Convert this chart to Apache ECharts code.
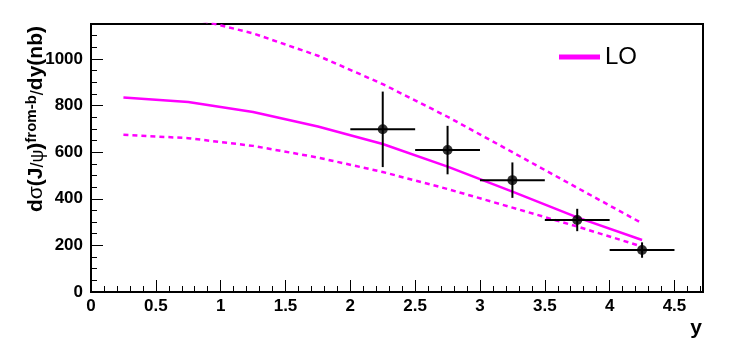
<!DOCTYPE html>
<html>
<head>
<meta charset="utf-8">
<script src="https://cdn.jsdelivr.net/npm/echarts@6/dist/echarts.min.js"></script>
<style>
  html, body { margin: 0; padding: 0; background: #fff; }
  #chart { width: 740px; height: 354px; }
</style>
</head>
<body>
<div id="chart"></div>
<script>
// 理论曲线 (LO) 的 y 点
const theoryX = [0.25, 0.75, 1.25, 1.75, 2.25, 2.75, 3.25, 3.75, 4.25];
const loCentral = [835, 815, 772, 710, 635, 538, 431, 320, 223];
const loUpper = [1230, 1178, 1110, 1014, 892, 752, 600, 447, 295];
const loLower = [675, 660, 627, 577, 515, 442, 362, 281, 195];

// 数据点
const dataX = [2.25, 2.75, 3.25, 3.75, 4.25];
const dataY = [698, 609, 480, 309, 180];
const dataXErr = [0.25, 0.25, 0.25, 0.25, 0.25];
const dataYErr = [162, 104, 76, 48, 33];

const xTicks = [0, 0.5, 1, 1.5, 2, 2.5, 3, 3.5, 4, 4.5];
const yTicks = [0, 200, 400, 600, 800, 1000];

const MAGENTA = '#ff00ff';
const FONT = 'Liberation Sans';

function pairs(xs, ys) {
    return xs.map((x, i) => [x, ys[i]]);
}

const chart = echarts.init(document.getElementById('chart'), null, { renderer: 'canvas' });

const option = {
    animation: false,
    backgroundColor: '#fff',
    grid: {
        left: 91, right: 37, top: 24, bottom: 62,
        show: true, borderColor: '#000', borderWidth: 2
    },
    legend: {
        data: ['LO'],
        left: 559, top: 45,
        padding: 0,
        icon: 'rect',
        itemWidth: 41, itemHeight: 5,
        itemGap: 0,
        textStyle: { fontFamily: FONT, fontSize: 24, color: '#000', padding: [2, 0, 0, 0] }
    },
    xAxis: {
        type: 'value',
        min: 0, max: 4.72, interval: 0.5,
        name: 'y',
        nameLocation: 'end',
        nameGap: -1,
        nameMoveOverlap: false,
        nameTextStyle: {
            fontFamily: FONT, fontWeight: 'bold', fontSize: 21, color: '#000',
            align: 'right', verticalAlign: 'top', padding: [26, 0, 0, 0]
        },
        splitLine: { show: false },
        axisLine: { onZero: false, lineStyle: { color: '#000', width: 2 } },
        axisTick: { inside: true, length: 12, lineStyle: { color: '#000', width: 1 } },
        minorTick: { show: true, splitNumber: 5, length: 6, lineStyle: { color: '#000', width: 1 } },
        axisLabel: {
            fontFamily: FONT, fontWeight: 'bold', fontSize: 17, color: '#000', margin: 6,
            showMaxLabel: false,
            formatter: v => (xTicks.indexOf(v) >= 0 ? String(v) : '')
        }
    },
    yAxis: {
        type: 'value',
        min: 0, max: 1150, interval: 200,
        name: '{m|d}{n|σ}{m|(J}{g|/ψ}{m|)}{s|from-b}{g|/}{m|dy(nb)}',
        nameLocation: 'middle',
        nameRotate: 90,
        nameGap: 44,
        nameMoveOverlap: false,
        nameTextStyle: {
            padding: [0, 0, 0, 78],
            rich: {
                m: { fontFamily: FONT, fontWeight: 'bold', fontSize: 21, color: '#000', lineHeight: 23, verticalAlign: 'bottom' },
                n: { fontFamily: FONT, fontSize: 21, color: '#000', lineHeight: 23, verticalAlign: 'bottom' },
                g: { fontFamily: FONT, fontSize: 18, color: '#000', lineHeight: 23, verticalAlign: 'bottom' },
                s: { fontFamily: FONT, fontWeight: 'bold', fontSize: 15, color: '#000', lineHeight: 15, verticalAlign: 'top', padding: [0, 0, 14, 0] }
            }
        },
        splitLine: { show: false },
        axisLine: { onZero: false, lineStyle: { color: '#000', width: 2 } },
        axisTick: { inside: true, length: 12, lineStyle: { color: '#000', width: 1 } },
        minorTick: { show: true, splitNumber: 4, length: 6, lineStyle: { color: '#000', width: 1 } },
        axisLabel: {
            fontFamily: FONT, fontWeight: 'bold', fontSize: 17, color: '#000', margin: 8,
            showMaxLabel: false,
            formatter: v => (yTicks.indexOf(v) >= 0 ? String(v) : '')
        }
    },
    series: [
        {
            name: 'LO',
            type: 'line',
            data: pairs(theoryX, loCentral),
            showSymbol: false,
            symbol: 'none',
            color: MAGENTA,
            lineStyle: { color: MAGENTA, width: 2.5 },
            clip: true,
            z: 3
        },
        {
            name: 'LO up',
            type: 'line',
            data: pairs(theoryX, loUpper),
            symbol: 'none',
            lineStyle: { color: MAGENTA, width: 2.5, type: [5, 4] },
            clip: true,
            z: 3
        },
        {
            name: 'LO down',
            type: 'line',
            data: pairs(theoryX, loLower),
            symbol: 'none',
            lineStyle: { color: MAGENTA, width: 2.5, type: [5, 4] },
            clip: true,
            z: 3
        },
        {
            // 误差棒
            name: 'errors',
            type: 'custom',
            data: dataX.map((x, i) => [x, dataY[i], dataXErr[i], dataYErr[i]]),
            encode: { x: 0, y: 1 },
            renderItem: (params, api) => {
                const x = api.value(0), y = api.value(1);
                const ex = api.value(2), ey = api.value(3);
                const l = api.coord([x - ex, y]), r = api.coord([x + ex, y]);
                const b = api.coord([x, y - ey]), t = api.coord([x, y + ey]);
                const st = { stroke: '#000', lineWidth: 2 };
                return {
                    type: 'group',
                    children: [
                        { type: 'line', shape: { x1: l[0], y1: l[1], x2: r[0], y2: r[1] }, style: st },
                        { type: 'line', shape: { x1: t[0], y1: t[1], x2: b[0], y2: b[1] }, style: st }
                    ]
                };
            },
            z: 4
        },
        {
            name: 'data',
            type: 'scatter',
            data: pairs(dataX, dataY),
            symbol: 'circle',
            symbolSize: 10,
            itemStyle: { color: '#000' },
            z: 5
        }
    ]
};

chart.setOption(option);
</script>
</body>
</html>
